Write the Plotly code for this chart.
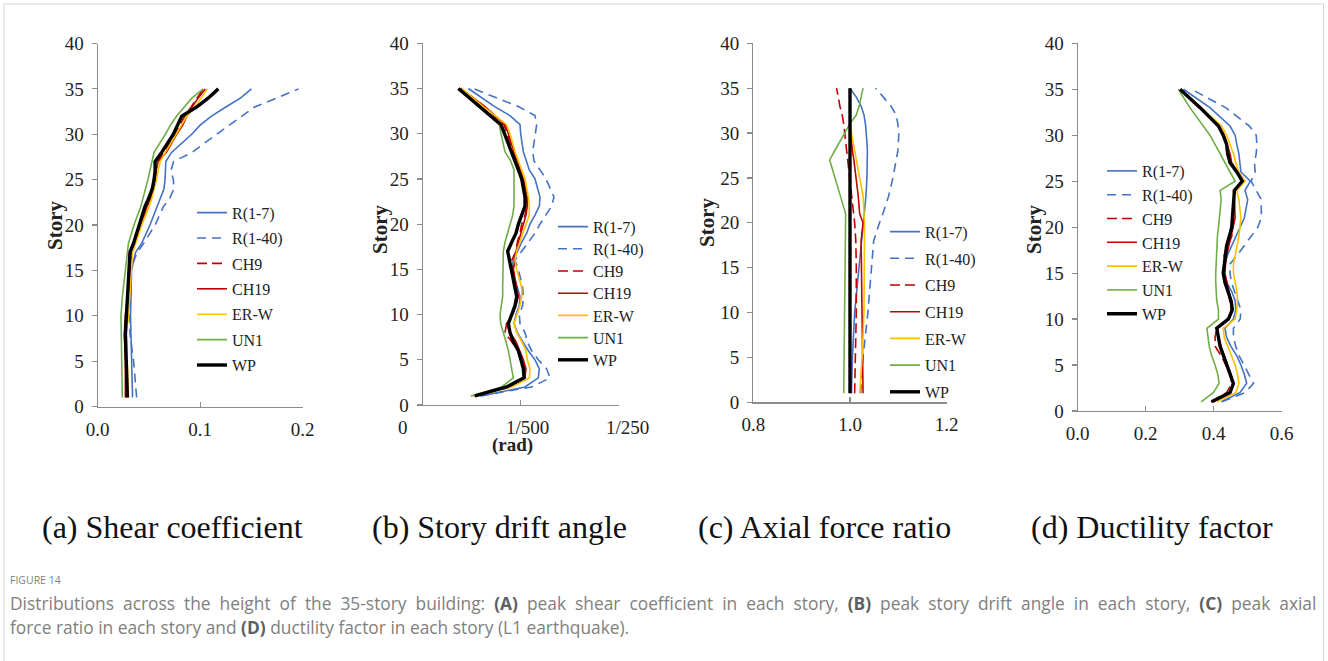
import plotly.graph_objects as go

# ---------------------------------------------------------------------------
# Data: response envelopes along the height of the 35-story building
# ---------------------------------------------------------------------------
SERIES = ["R(1-7)", "R(1-40)", "CH9", "CH19", "ER-W", "UN1", "WP"]

# (a) peak shear coefficient
STORY_A = [1, 5, 8, 10, 12, 15, 17, 18, 20, 22, 23, 24, 25, 26, 27, 28, 30, 31, 32, 33, 34, 35]
SHEAR_R1_7 = [0.034, 0.033, 0.032, 0.032, 0.0325, 0.033, 0.037, 0.043, 0.051, 0.0576, 0.0615, 0.0647,
              0.0657, 0.066, 0.0665, 0.072, 0.0917, 0.100, 0.111, 0.125, 0.1395, 0.150]
SHEAR_R1_40 = [0.038, 0.035, 0.0315, 0.0315, 0.0315, 0.0315, 0.0387, 0.045, 0.056, 0.064, 0.0705, 0.0745,
               0.0738, 0.0715, 0.074, 0.092, 0.116, 0.128, 0.140, 0.153, 0.175, 0.196]
SHEAR_CH9 = [0.028, 0.028, 0.027, 0.028, 0.029, 0.031, 0.033, 0.036, 0.042, 0.048, 0.051, 0.054,
             0.056, 0.057, 0.058, 0.065, 0.0755, 0.080, 0.085, 0.091, 0.097, 0.103]
SHEAR_CH19 = [0.027, 0.027, 0.026, 0.027, 0.029, 0.031, 0.033, 0.036, 0.042, 0.048, 0.052, 0.054,
              0.056, 0.057, 0.059, 0.067, 0.077, 0.083, 0.087, 0.092, 0.098, 0.105]
SHEAR_ERW = [0.030, 0.029, 0.028, 0.030, 0.031, 0.0325, 0.034, 0.037, 0.043, 0.050, 0.053, 0.055,
             0.0575, 0.059, 0.061, 0.066, 0.0765, 0.082, 0.087, 0.095, 0.101, 0.107]
SHEAR_UN1 = [0.024, 0.0234, 0.0227, 0.0227, 0.024, 0.0266, 0.029, 0.030, 0.0354, 0.042, 0.0445, 0.047,
             0.049, 0.051, 0.053, 0.055, 0.066, 0.071, 0.077, 0.0845, 0.092, 0.103]
SHEAR_WP = [0.029, 0.028, 0.027, 0.028, 0.029, 0.0305, 0.0315, 0.035, 0.0406, 0.046, 0.050, 0.0533,
            0.055, 0.056, 0.056, 0.0624, 0.0738, 0.078, 0.082, 0.0965, 0.108, 0.1177]

# (b) peak story drift angle, in 10^-3 rad
STORY_B = [1, 2, 3, 4, 5, 6, 7, 8, 9, 10, 11, 12, 13, 15, 16, 17, 18, 19, 20, 21, 22, 23, 25, 26, 27, 28,
           30, 31, 32, 33, 35]
DRIFT_R1_7 = [1.205, 2.090, 2.362, 2.383, 2.294, 2.158, 2.042, 1.933, 1.865, 1.906, 1.974, 1.988, 1.933,
              1.818, 1.852, 1.933, 2.022, 2.124, 2.192, 2.294, 2.383, 2.396, 2.294, 2.178, 2.110, 2.056,
              2.001, 1.988, 1.784, 1.470, 0.932]
DRIFT_R1_40 = [1.170, 2.226, 2.601, 2.532, 2.362, 2.226, 2.137, 2.090, 1.988, 1.974, 2.042, 2.056, 2.042,
               1.954, 1.886, 2.022, 2.158, 2.294, 2.396, 2.519, 2.635, 2.682, 2.519, 2.396, 2.274, 2.247,
               2.294, 2.328, 2.294, 1.954, 1.034]
DRIFT_CH9 = [1.034, 1.715, 2.070, 2.090, 2.022, 1.954, 1.818, 1.681, 1.715, 1.818, 1.886, 1.933, 1.906,
             1.838, 1.818, 1.906, 1.933, 1.988, 2.022, 2.090, 2.124, 2.124, 2.056, 1.974, 1.913, 1.852,
             1.736, 1.661, 1.456, 1.260, 0.775]
DRIFT_CH19 = [1.068, 1.750, 2.090, 2.110, 2.056, 1.988, 1.906, 1.784, 1.715, 1.838, 1.906, 1.954, 1.920,
              1.852, 1.886, 1.906, 1.954, 2.001, 2.056, 2.110, 2.137, 2.137, 2.056, 1.988, 1.920, 1.865,
              1.750, 1.681, 1.477, 1.273, 0.775]
DRIFT_ERW = [1.102, 1.818, 2.178, 2.192, 2.137, 2.110, 2.022, 1.920, 1.865, 1.920, 1.988, 2.022, 2.022,
             1.920, 1.886, 1.920, 1.988, 2.056, 2.110, 2.178, 2.178, 2.158, 2.090, 2.022, 1.954, 1.886,
             1.784, 1.715, 1.477, 1.239, 0.796]
DRIFT_UN1 = [0.980, 1.613, 1.852, 1.818, 1.797, 1.750, 1.702, 1.647, 1.593, 1.580, 1.600, 1.634, 1.634,
             1.634, 1.640, 1.647, 1.681, 1.736, 1.784, 1.838, 1.865, 1.865, 1.865, 1.865, 1.797, 1.681,
             1.600, 1.566, 1.375, 1.170, 0.762]
DRIFT_WP = [1.068, 1.715, 2.070, 2.056, 2.008, 1.954, 1.852, 1.784, 1.750, 1.818, 1.886, 1.920, 1.886,
            1.818, 1.770, 1.736, 1.818, 1.906, 1.954, 2.022, 2.090, 2.090, 2.022, 1.954, 1.886, 1.818,
            1.681, 1.600, 1.380, 1.164, 0.728]
DRIFT_TICKS = [0, 2, 4]
DRIFT_TICK_TEXT = ["0", "1/500", "1/250"]

# (c) peak axial force ratio
STORY_C = [1, 5, 10, 15, 18, 20, 21, 23, 25, 27, 28, 29, 30, 31, 32, 33, 34, 35]
AXIAL_R1_7 = [1.003, 1.005, 1.0096, 1.0186, 1.025, 1.029, 1.030, 1.033, 1.035, 1.036, 1.036, 1.035,
              1.034, 1.032, 1.029, 1.023, 1.013, 1.000]
AXIAL_R1_40 = [1.022, 1.027, 1.037, 1.044, 1.049, 1.061, 1.068, 1.080, 1.0887, 1.0955, 1.099, 1.100,
               1.101, 1.099, 1.0955, 1.085, 1.068, 1.053]
AXIAL_CH9 = [1.0096, 1.011, 1.013, 1.013, 1.012, 1.0096, 1.0076, 1.003, 0.999, 0.995, 0.994, 0.991,
             0.989, 0.987, 0.984, 0.979, 0.976, 0.972]
AXIAL_CH19 = [1.027, 1.026, 1.025, 1.024, 1.023, 1.027, 1.020, 1.017, 1.013, 1.008, 1.005, 1.003,
              1.001, 1.000, 1.000, 1.000, 1.000, 1.000]
AXIAL_ERW = [1.020, 1.025, 1.029, 1.030, 1.030, 1.030, 1.029, 1.027, 1.020, 1.013, 1.009, 1.006,
             1.003, 1.001, 1.000, 1.000, 1.000, 1.000]
AXIAL_UN1 = [0.987, 0.988, 0.989, 0.990, 0.990, 0.991, 0.991, 0.980, 0.969, 0.958, 0.968, 0.979,
             0.989, 0.999, 1.013, 1.019, 1.023, 1.027]
AXIAL_WP = [1.000, 1.000, 1.000, 1.000, 1.000, 1.000, 1.000, 1.000, 1.000, 1.000, 1.000, 1.000,
            1.000, 1.000, 1.000, 1.000, 1.000, 1.000]

# (d) ductility factor
STORY_D = [1, 2, 3, 4, 5, 6, 7, 8, 9, 10, 11, 12, 13, 14, 15, 16, 17, 18, 19, 20, 21, 23, 24, 25, 26, 27,
           28, 29, 30, 31, 33, 35]
DUCT_R1_7 = [0.423, 0.477, 0.497, 0.490, 0.480, 0.468, 0.451, 0.438, 0.433, 0.458, 0.465, 0.463, 0.453,
             0.438, 0.428, 0.433, 0.441, 0.453, 0.464, 0.477, 0.490, 0.500, 0.492, 0.508, 0.480, 0.477,
             0.474, 0.468, 0.463, 0.448, 0.389, 0.311]
DUCT_R1_40 = [0.424, 0.492, 0.517, 0.503, 0.490, 0.475, 0.465, 0.458, 0.458, 0.478, 0.480, 0.470, 0.462,
              0.452, 0.448, 0.448, 0.470, 0.490, 0.510, 0.530, 0.540, 0.540, 0.525, 0.510, 0.522, 0.520,
              0.525, 0.527, 0.525, 0.505, 0.435, 0.335]
DUCT_CH9 = [0.392, 0.438, 0.453, 0.448, 0.436, 0.422, 0.405, 0.404, 0.409, 0.443, 0.451, 0.448, 0.443,
            0.436, 0.431, 0.431, 0.431, 0.441, 0.453, 0.456, 0.460, 0.461, 0.460, 0.484, 0.468, 0.451,
            0.446, 0.438, 0.428, 0.412, 0.358, 0.303]
DUCT_CH19 = [0.392, 0.448, 0.458, 0.451, 0.441, 0.431, 0.422, 0.414, 0.411, 0.445, 0.453, 0.451, 0.445,
             0.438, 0.433, 0.435, 0.438, 0.445, 0.451, 0.458, 0.463, 0.461, 0.458, 0.487, 0.470, 0.453,
             0.448, 0.440, 0.431, 0.414, 0.360, 0.303]
DUCT_ERW = [0.409, 0.465, 0.474, 0.470, 0.463, 0.453, 0.441, 0.431, 0.428, 0.463, 0.468, 0.470, 0.468,
            0.463, 0.458, 0.458, 0.463, 0.470, 0.474, 0.477, 0.480, 0.474, 0.468, 0.492, 0.474, 0.465,
            0.458, 0.448, 0.438, 0.423, 0.365, 0.304]
DUCT_UN1 = [0.363, 0.399, 0.416, 0.412, 0.404, 0.394, 0.387, 0.383, 0.380, 0.414, 0.414, 0.409, 0.407,
            0.406, 0.406, 0.407, 0.408, 0.409, 0.411, 0.414, 0.416, 0.422, 0.419, 0.463, 0.448, 0.434,
            0.419, 0.404, 0.389, 0.370, 0.330, 0.296]
DUCT_WP = [0.394, 0.448, 0.458, 0.448, 0.438, 0.428, 0.419, 0.414, 0.409, 0.443, 0.455, 0.451, 0.443,
           0.433, 0.428, 0.431, 0.433, 0.438, 0.446, 0.453, 0.455, 0.458, 0.461, 0.484, 0.468, 0.448,
           0.441, 0.438, 0.428, 0.414, 0.360, 0.301]

PANEL_TITLES = ["(a) Shear coefficient", "(b) Story drift angle",
                "(c) Axial force ratio", "(d) Ductility factor"]

# ---------------------------------------------------------------------------
# Styling
# ---------------------------------------------------------------------------
W, H = 1328, 661
SERIF = "Liberation Serif, Times New Roman, serif"
SANS = "Open Sans, Noto Sans, sans-serif"
AXIS_GRAY = "#8c8c8c"
TEXT = "#222222"

STYLE = {
    "R(1-7)": dict(color="#4472C4", width=1.6, dash="solid"),
    "R(1-40)": dict(color="#4472C4", width=1.6, dash="9px,6px"),
    "CH9": dict(color="#C00000", width=1.6, dash="10px,5px"),
    "CH19": dict(color="#C00000", width=1.6, dash="solid"),
    "ER-W": dict(color="#FFC000", width=1.6, dash="solid"),
    "UN1": dict(color="#70AD47", width=1.6, dash="solid"),
    "WP": dict(color="#000000", width=3.4, dash="solid"),
}


def px_x(v):
    return v / W


def px_y(v):
    return 1 - v / H


# pixel boxes of each plotting area: (left, right, bottom, top)
BOXES = [
    (97.7, 302.7, 406.5, 43.5),
    (422.7, 618.5, 405.0, 43.3),
    (753.3, 946.7, 402.3, 43.3),
    (1077.7, 1281.7, 411.0, 43.3),
]

PANELS = [
    (STORY_A, [SHEAR_R1_7, SHEAR_R1_40, SHEAR_CH9, SHEAR_CH19, SHEAR_ERW, SHEAR_UN1, SHEAR_WP],
     dict(range=[0, 0.2], tickvals=[0, 0.1, 0.2], ticktext=["0.0", "0.1", "0.2"])),
    (STORY_B, [DRIFT_R1_7, DRIFT_R1_40, DRIFT_CH9, DRIFT_CH19, DRIFT_ERW, DRIFT_UN1, DRIFT_WP],
     dict(range=[0, 4], tickvals=DRIFT_TICKS, showticklabels=False)),
    (STORY_C, [AXIAL_R1_7, AXIAL_R1_40, AXIAL_CH9, AXIAL_CH19, AXIAL_ERW, AXIAL_UN1, AXIAL_WP],
     dict(range=[0.8, 1.2], tickvals=[0.8, 1.0, 1.2], ticktext=["0.8", "1.0", "1.2"])),
    (STORY_D, [DUCT_R1_7, DUCT_R1_40, DUCT_CH9, DUCT_CH19, DUCT_ERW, DUCT_UN1, DUCT_WP],
     dict(range=[0, 0.6], tickvals=[0, 0.2, 0.4, 0.6], ticktext=["0.0", "0.2", "0.4", "0.6"])),
]

# legend placement per panel: (left x, first entry centre y, entry pitch) in pixels
LEGENDS = [
    (192, 212.7, 25.4),
    (553, 226.7, 22.2),
    (885, 231.7, 26.7),
    (1102, 171.0, 23.8),
]

STORY_TITLE_POS = [(55, 226), (380, 230), (707, 223), (1034, 230)]
CAPTION_X = [172, 499, 825, 1152]

fig = go.Figure()
layout = dict(
    width=W, height=H,
    margin=dict(l=0, r=0, t=0, b=0, pad=0, autoexpand=False),
    paper_bgcolor="white", plot_bgcolor="white",
    showlegend=True,
    hovermode=False,
)
annotations = []

legend_index = 0
for i, (stories, values, xopts) in enumerate(PANELS, start=1):
    sfx = "" if i == 1 else str(i)
    left, right, bottom, top = BOXES[i - 1]
    lx, ly, pitch = LEGENDS[i - 1]
    for j, (name, vals) in enumerate(zip(SERIES, values)):
        st = STYLE[name]
        # one single-entry legend per series so every entry sits at its own height
        legend_index += 1
        legend_name = "legend" if legend_index == 1 else f"legend{legend_index}"
        fig.add_trace(go.Scatter(
            x=vals, y=stories, mode="lines", name=name,
            line=dict(color=st["color"], width=st["width"], dash=st["dash"]),
            xaxis="x" + sfx, yaxis="y" + sfx,
            legend=legend_name,
            hoverinfo="skip",
        ))
        layout[legend_name] = dict(
            x=px_x(lx), y=px_y(ly + j * pitch), xanchor="left", yanchor="middle",
            bgcolor="rgba(0,0,0,0)", borderwidth=0,
            font=dict(family=SERIF, size=16, color=TEXT),
            itemclick=False, itemdoubleclick=False,
        )

    xa = dict(
        domain=[px_x(left), px_x(right)], anchor="y" + sfx,
        showline=True, linecolor=AXIS_GRAY, linewidth=1.2,
        showgrid=False, zeroline=False, automargin=False,
        ticks="inside", ticklen=5, tickcolor=AXIS_GRAY, tickwidth=1.2,
        tickmode="array",
        tickfont=dict(family=SERIF, size=19, color=TEXT),
        ticklabelstandoff=5,
        fixedrange=True,
    )
    xa.update(xopts)
    ya = dict(
        domain=[px_y(bottom), px_y(top)], anchor="x" + sfx,
        range=[0, 40], tickmode="array", tickvals=list(range(0, 41, 5)),
        showline=True, linecolor=AXIS_GRAY, linewidth=1.2,
        showgrid=False, zeroline=False, automargin=False,
        ticks="outside", ticklen=5, tickcolor=AXIS_GRAY, tickwidth=1.2,
        tickfont=dict(family=SERIF, size=19, color=TEXT),
        ticklabelstandoff=4,
        fixedrange=True,
    )
    layout["xaxis" + sfx] = xa
    layout["yaxis" + sfx] = ya

    sx, sy = STORY_TITLE_POS[i - 1]
    annotations.append(dict(
        text="<b>Story</b>", x=px_x(sx), y=px_y(sy), xref="paper", yref="paper",
        textangle=-90, showarrow=False, xanchor="center", yanchor="middle",
        font=dict(family=SERIF, size=21, color=TEXT),
    ))
    annotations.append(dict(
        text=PANEL_TITLES[i - 1], x=px_x(CAPTION_X[i - 1]), y=px_y(527),
        xref="paper", yref="paper", showarrow=False,
        xanchor="center", yanchor="middle",
        font=dict(family=SERIF, size=32, color="#111111"),
    ))

# drift-angle tick labels and unit
for txt, xpix in zip(DRIFT_TICK_TEXT, [403, 527, 627]):
    annotations.append(dict(
        text=txt, x=px_x(xpix), y=px_y(427), xref="paper", yref="paper",
        showarrow=False, xanchor="center", yanchor="middle",
        font=dict(family=SERIF, size=19, color=TEXT),
    ))
annotations.append(dict(
    text="<b>(rad)</b>", x=px_x(512), y=px_y(445), xref="paper", yref="paper",
    showarrow=False, xanchor="center", yanchor="middle",
    font=dict(family=SERIF, size=19, color=TEXT),
))

# figure caption (first line set justified across the full width)
CAP_GRAY = "#808080"
BOLD_GRAY = "#606060"
annotations.append(dict(
    text="FIGURE 14", x=px_x(8), y=px_y(580), xref="paper", yref="paper",
    showarrow=False, xanchor="left", yanchor="middle",
    font=dict(family=SANS, size=10.5, color=CAP_GRAY),
))
line1 = ("Distributions across the height of the 35-story building: "
         f"<b style='color:{BOLD_GRAY}'>(A)</b> peak shear coefficient in each story, "
         f"<b style='color:{BOLD_GRAY}'>(B)</b> peak story drift angle in each story, "
         f"<b style='color:{BOLD_GRAY}'>(C)</b> peak axial").replace(" ", "  ").replace("<b  style", "<b style")
line2 = (f"force ratio in each story and <b style='color:{BOLD_GRAY}'>(D)</b> "
         "ductility factor in each story (L1 earthquake).")
for txt, ypix in [(line1, 603), (line2, 627)]:
    annotations.append(dict(
        text=txt, x=px_x(8), y=px_y(ypix), xref="paper", yref="paper",
        showarrow=False, xanchor="left", yanchor="middle",
        font=dict(family=SANS, size=17.35, color=CAP_GRAY),
    ))

layout["annotations"] = annotations
layout["shapes"] = [dict(
    type="rect", xref="paper", yref="paper",
    x0=px_x(4), x1=px_x(1323.5), y0=-0.05, y1=px_y(4),
    line=dict(color="#d4d4d4", width=1), fillcolor="rgba(0,0,0,0)",
)]

fig.update_layout(**layout)
fig.write_html("out.html", config={"displayModeBar": False, "staticPlot": True})
